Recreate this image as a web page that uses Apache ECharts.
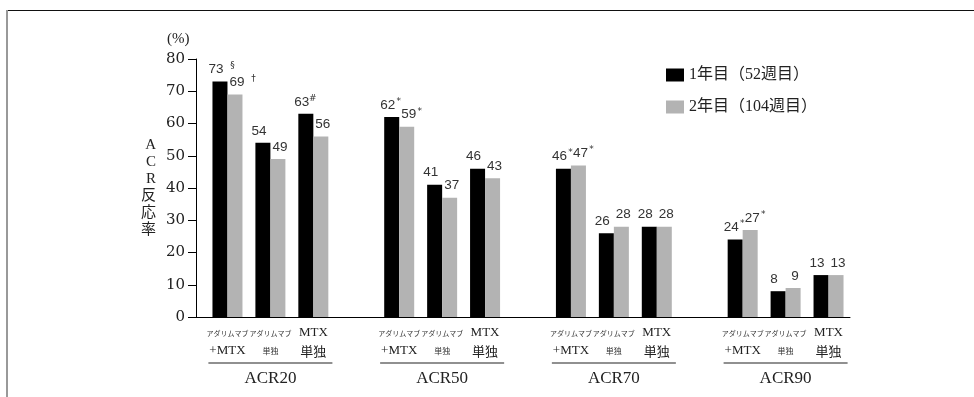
<!DOCTYPE html>
<html>
<head>
<meta charset="utf-8">
<script src="https://cdn.jsdelivr.net/npm/echarts@6/dist/echarts.min.js"></script>
<style>
  html, body { margin: 0; padding: 0; background: #fff; }
  #chart { width: 974px; height: 397px; }
</style>
</head>
<body>
<div id="chart"></div>
<script>
// ACR response rates by treatment arm, year 1 vs year 2
const groups = ['ACR20', 'ACR50', 'ACR70', 'ACR90'];
const arms = ['アダリムマブ+MTX', 'アダリムマブ単独', 'MTX単独'];
const seriesNames = ['1年目（52週目）', '2年目（104週目）'];

const year1 = [
  [73, 54, 63],
  [62, 41, 46],
  [46, 26, 28],
  [24, 8, 13]
];
const year2 = [
  [69, 49, 56],
  [59, 37, 43],
  [47, 28, 28],
  [27, 9, 13]
];
// significance markers shown next to the values
const marks1 = [
  ['§', '', '#'],
  ['*', '', ''],
  ['*', '', ''],
  ['*', '', '']
];
const marks2 = [
  ['†', '', ''],
  ['*', '', ''],
  ['*', '', ''],
  ['*', '', '']
];
const yTicks = [0, 10, 20, 30, 40, 50, 60, 70, 80];

// Build the category slots: three arms per group, one empty slot between groups
const cats = [];
const slotInfo = [];
const d1 = [], d2 = [];
groups.forEach(function (g, gi) {
  arms.forEach(function (a, ai) {
    cats.push(g + ':' + a);
    slotInfo.push({ g: gi, a: ai });
    d1.push({ value: year1[gi][ai], mark: marks1[gi][ai] });
    d2.push({ value: year2[gi][ai], mark: marks2[gi][ai] });
  });
  if (gi < groups.length - 1) {
    cats.push('gap' + gi);
    slotInfo.push(null);
    d1.push('-');
    d2.push('-');
  }
});

const GRID = { left: 206, right: 124, top: 59, bottom: 80 };
const Y_OFFSET = 10;
const W = 974, H = 397;

function armLabel(info) {
  if (!info) return '';
  let s;
  if (info.a === 0) s = '{k|アダリムマブ}\n{p|+MTX}';
  else if (info.a === 1) s = '{k|アダリムマブ}\n{ks|単独}';
  else s = '{m|MTX}\n{s|単独}';
  if (info.a === 1) s += '\n{ln| }\n{g|' + groups[info.g] + '}';
  return s;
}

// value with an optional raised marker; an invisible pad on the left keeps the digits centred
function valueLabel(p) {
  const m = p.data.mark;
  if (!m) return '{v|' + p.data.value + '}';
  const wide = (m === '§' || m === '†');
  return '{' + (wide ? 'pw' : 'pn') + '| }{v|' + p.data.value + '}{' + (wide ? 'sp' : 'sn') + '| }{sup|' + m + '}';
}

const labelRich = {
  v: { fontFamily: 'Liberation Sans', fontSize: 13.5, color: '#333', lineHeight: 16 },
  sp: { fontSize: 6, width: 6, lineHeight: 16 },
  sn: { fontSize: 6, width: 0.5, lineHeight: 16 },
  pw: { fontSize: 6, width: 12, lineHeight: 16 },
  pn: { fontSize: 6, width: 6.5, lineHeight: 16 },
  sup: { fontFamily: 'DejaVu Sans', fontSize: 9, width: 6, color: '#333', verticalAlign: 'top', lineHeight: 16, padding: [0, 0, 6, 0] }
};

const chart = echarts.init(document.getElementById('chart'));
chart.setOption({
  animation: false,
  backgroundColor: '#fff',
  title: {
    text: '(%)',
    left: 162,
    top: 27,
    textStyle: { fontFamily: 'Liberation Serif', fontSize: 15, fontWeight: 'normal', color: '#222' }
  },
  legend: {
    orient: 'vertical',
    left: 661,
    top: 62,
    itemWidth: 18,
    itemHeight: 13,
    itemGap: 16,
    icon: 'rect',
    textStyle: { fontFamily: "'Liberation Serif', 'Noto Sans CJK JP'", fontSize: 16, color: '#222' },
    data: seriesNames
  },
  grid: GRID,
  xAxis: {
    type: 'category',
    data: cats,
    axisLine: { lineStyle: { color: '#000', width: 1 } },
    axisTick: {
      length: 7,
      lineStyle: { color: '#000' },
      interval: function (index) { return index !== 0; }
    },
    axisLabel: {
      interval: 0,
      margin: 7,
      color: '#222',
      formatter: function (value, index) { return armLabel(slotInfo[index]); },
      rich: {
        k: { fontFamily: 'Noto Sans CJK JP', fontSize: 7, lineHeight: 18, color: '#333' },
        ks: { fontFamily: 'Noto Sans CJK JP', fontSize: 8, lineHeight: 18, color: '#333' },
        p: { fontFamily: 'Liberation Serif', fontSize: 13, lineHeight: 18, color: '#222' },
        m: { fontFamily: 'Liberation Serif', fontSize: 13, lineHeight: 18, color: '#222' },
        s: { fontFamily: 'Noto Sans CJK JP', fontSize: 13, lineHeight: 18, color: '#222' },
        ln: { fontSize: 1, width: 124, height: 1, lineHeight: 6, backgroundColor: '#222' },
        g: { fontFamily: 'Liberation Serif', fontSize: 17, lineHeight: 26, color: '#222' }
      }
    }
  },
  yAxis: {
    type: 'value',
    min: yTicks[0],
    max: yTicks[yTicks.length - 1],
    interval: 10,
    offset: Y_OFFSET,
    name: 'A\nC\nR\n反\n応\n率',
    nameLocation: 'middle',
    nameRotate: 0,
    nameGap: 40,
    nameTextStyle: { fontFamily: "'Liberation Serif', 'Noto Sans CJK JP'", fontSize: 15, lineHeight: 17, color: '#222', padding: [6, 0, 0, 0] },
    axisLine: { show: true, lineStyle: { color: '#000', width: 1 } },
    axisTick: { show: true, length: 8, lineStyle: { color: '#000' } },
    splitLine: { show: false },
    axisLabel: { margin: 11, fontFamily: 'DejaVu Serif', fontSize: 15, color: '#222' }
  },
  series: [
    {
      name: seriesNames[0],
      type: 'bar',
      data: d1,
      barWidth: 15,
      barGap: '0%',
      itemStyle: { color: '#000' },
      label: { show: true, position: 'top', distance: 4, offset: [-4, 0], formatter: valueLabel, rich: labelRich }
    },
    {
      name: seriesNames[1],
      type: 'bar',
      data: d2,
      barWidth: 15,
      barGap: '0%',
      itemStyle: { color: '#b3b3b3' },
      label: { show: true, position: 'top', distance: 4, offset: [2, 0], formatter: valueLabel, rich: labelRich }
    }
  ],
  graphic: [
    // outer frame (top and left edges)
    { type: 'line', shape: { x1: 7, y1: 10.5, x2: W, y2: 10.5 }, style: { stroke: '#111', lineWidth: 1.2 } },
    { type: 'line', shape: { x1: 7, y1: 10, x2: 7, y2: H }, style: { stroke: '#999', lineWidth: 2 } },
    // x axis baseline continued to the offset y axis
    { type: 'line', shape: { x1: GRID.left - Y_OFFSET, y1: H - GRID.bottom + 0.5, x2: GRID.left, y2: H - GRID.bottom + 0.5 }, style: { stroke: '#000', lineWidth: 1 } }
  ]
});
</script>
</body>
</html>
